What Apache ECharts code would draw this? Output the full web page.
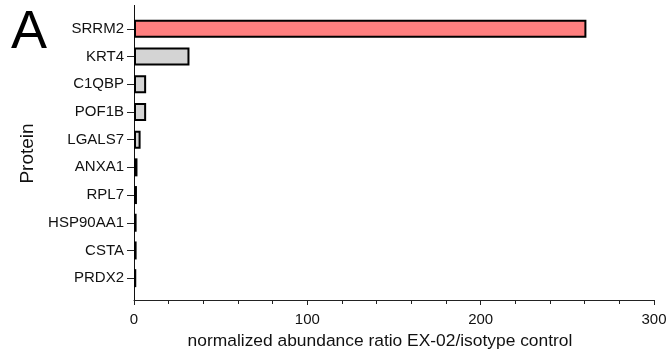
<!DOCTYPE html>
<html>
<head>
<meta charset="utf-8">
<script src="https://cdn.jsdelivr.net/npm/echarts@6/dist/echarts.min.js"></script>
<style>
    html, body {margin: 0; padding: 0; background: #fff;}
    #chart {width: 672px; height: 361px;}
</style>
</head>
<body>
<div id="chart"></div>
<script>
    // proteins, top to bottom
    const proteins = ['SRRM2', 'KRT4', 'C1QBP', 'POF1B', 'LGALS7', 'ANXA1', 'RPL7', 'HSP90AA1', 'CSTA', 'PRDX2'];
    // normalized abundance ratio EX-02 / isotype control
    const ratios = [261, 32, 7, 7, 3.8, 2, 1.7, 1.5, 1.5, 1.3];
    const xTicks = [0, 100, 200, 300];

    const font = 'Liberation Sans, Arial, sans-serif';
    const chart = echarts.init(document.getElementById('chart'));

    chart.setOption({
        animation: false,
        textStyle: {fontFamily: font},
        grid: {left: 134, right: 18, top: 15, bottom: 69},
        graphic: [{
            type: 'text',
            left: 11, top: 6,
            style: {text: 'A', font: '54px ' + font, fill: '#000'}
        }, {
            // y axis line runs a bit past the bars, like the original plot
            type: 'line',
            shape: {x1: 134.5, y1: 5, x2: 134.5, y2: 300},
            style: {stroke: '#111', lineWidth: 1}
        }],
        xAxis: {
            type: 'value',
            min: xTicks[0],
            max: xTicks[xTicks.length - 1],
            interval: 100,
            offset: 8,
            name: 'normalized abundance ratio EX-02/isotype control',
            nameLocation: 'middle',
            nameGap: 33,
            nameTextStyle: {fontSize: 17.4, color: '#111', padding: [0, 28, 0, 0]},
            axisLine: {show: true, lineStyle: {color: '#222', width: 1}},
            axisTick: {show: true, length: 5, lineStyle: {color: '#222'}},
            minorTick: {show: true, splitNumber: 5, length: 4, lineStyle: {color: '#222'}},
            axisLabel: {fontSize: 15, color: '#111', margin: 12},
            splitLine: {show: false}
        },
        yAxis: {
            type: 'category',
            data: proteins,
            inverse: true,
            name: 'Protein',
            nameLocation: 'middle',
            nameGap: 97,
            nameRotate: 90,
            nameTextStyle: {fontSize: 19, color: '#111'},
            axisLine: {show: false},
            axisTick: {show: true, alignWithLabel: true, length: 7, lineStyle: {color: '#222'}},
            axisLabel: {fontSize: 15, color: '#111', margin: 10}
        },
        series: [{
            type: 'bar',
            data: ratios.map((v, i) => ({
                value: v,
                itemStyle: {color: i === 0 ? '#FF7F7F' : '#D4D4D4'}
            })),
            barWidth: 18,
            itemStyle: {borderColor: '#000', borderWidth: 2}
        }]
    });
</script>
</body>
</html>
